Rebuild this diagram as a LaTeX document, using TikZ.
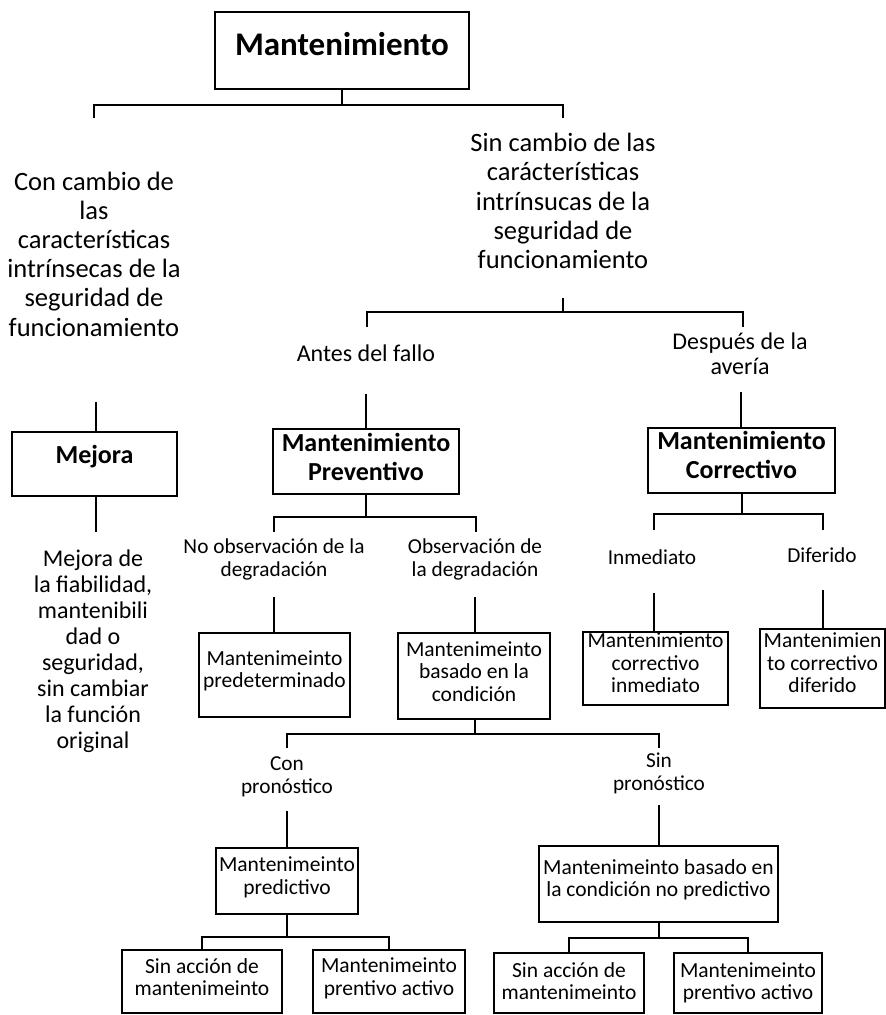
\documentclass[tikz,border=0pt]{standalone}
\usepackage{fontspec}
\setmainfont{Carlito}
\begin{document}
\begin{tikzpicture}[x=1pt,y=-1pt,
  line width=1.8pt,
  box/.style={draw, line width=2pt, inner sep=0pt},
  ttl/.style={inner sep=0pt, font=\bfseries\fontsize{33}{36}\selectfont},
  boldtxt/.style={align=center, inner sep=0pt, font=\bfseries\fontsize{26}{29}\selectfont},
  bigtxt/.style={align=center, inner sep=0pt, font=\fontsize{26.5}{29.2}\selectfont},
  desctxt/.style={align=center, inner sep=0pt, font=\fontsize{24}{26}\selectfont},
  midtxt/.style={align=center, inner sep=0pt, font=\fontsize{24}{24.5}\selectfont},
  smalltxt/.style={align=center, inner sep=0pt, font=\fontsize{21.3}{23}\selectfont},
  boxtxt/.style={align=center, inner sep=0pt, font=\fontsize{21.5}{22.5}\selectfont},
]
\useasboundingbox (0,0) rectangle (886,1015);

% ---- root ----
\node[box, minimum width=254pt, minimum height=77pt] (root) at (342,50.5) {};
\node[ttl] (rootT) at (342,44) {Mantenimiento};

\coordinate (j1) at (342,105);
\coordinate (t1a) at (94,118);
\coordinate (t1b) at (563,118);
\draw (root.south) -- (j1);
\draw (t1a) |- (j1) -| (t1b);

% ---- left branch: improvement ----
\node[bigtxt] (conT) at (94,254) {Con cambio de\\las\\características\\intrínsecas de la\\seguridad de\\funcionamiento};
\coordinate (s2) at (96,402);
\node[box, minimum width=165pt, minimum height=64pt] (mej) at (94.5,464) {};
\node[boldtxt] (mejT) at (94.5,457) {Mejora};
\draw (s2) -- (s2 |- mej.north);
\coordinate (s3) at (96,532);
\draw (mej.south -| s3) -- (s3);
\node[desctxt] (mejD) at (93,651) {Mejora de\\la fiabilidad,\\mantenibili\\dad o\\seguridad,\\sin cambiar\\la función\\original};

% ---- right branch ----
\node[bigtxt] (sinT) at (563,201) {Sin cambio de las\\carácterísticas\\intrínsucas de la\\seguridad de\\funcionamiento};
\coordinate (s4) at (563,298);
\coordinate (j4) at (563,312);
\draw (s4) -- (j4);
\coordinate (t4a) at (367,327);
\coordinate (t4b) at (743,327);
\draw (t4a) |- (j4) -| (t4b);

\node[midtxt] (antT) at (366,353.5) {Antes del fallo};
\node[midtxt] (despT) at (740,353.5) {Después de la\\avería};

\coordinate (s5) at (366,394);
\node[box, minimum width=186pt, minimum height=65pt] (prev) at (366,461.5) {};
\node[boldtxt] (prevT) at (366,456.5) {Mantenimiento\\Preventivo};
\draw (s5) -- (s5 |- prev.north);

\coordinate (s6) at (741,392);
\node[box, minimum width=187pt, minimum height=65pt] (corr) at (741.5,460.5) {};
\node[boldtxt] (corrT) at (741.5,454.5) {Mantenimiento\\Correctivo};
\draw (s6) -- (s6 |- corr.north);

% ---- preventive maintenance ----
\coordinate (j7) at (366,517);
\coordinate (t7a) at (274,532);
\coordinate (t7b) at (476,532);
\draw (prev.south) -- (j7);
\draw (t7a) |- (j7) -| (t7b);
\node[smalltxt] (noobsT) at (274,559.5) {No observación de la\\degradación};
\node[smalltxt] (obsT) at (475,559.5) {Observación de\\la degradación};
\coordinate (s8) at (274,597);
\coordinate (s9) at (475,597);
\node[box, minimum width=151pt, minimum height=84pt] (pdet) at (274.5,675) {};
\node[boxtxt] (pdetT) at (274.5,671) {Mantenimeinto\\predeterminado};
\node[box, minimum width=152pt, minimum height=86pt] (cond) at (474,676) {};
\node[boxtxt] (condT) at (474,671.5) {Mantenimeinto\\basado en la\\condición};
\draw (s8) -- (s8 |- pdet.north);
\draw (s9) -- (s9 |- cond.north);

% ---- condition based ----
\coordinate (j10) at (475,734);
\coordinate (t10a) at (287,748);
\coordinate (t10b) at (659,748);
\draw (cond.south -| j10) -- (j10);
\draw (t10a) |- (j10) -| (t10b);
\node[smalltxt] (conpT) at (287,776.5) {Con\\pronóstico};
\node[smalltxt] (sinpT) at (659,773.5) {Sin\\pronóstico};
\coordinate (s11) at (287,811);
\coordinate (s12) at (659,805);
\node[box, minimum width=142pt, minimum height=66pt] (pred) at (287,881) {};
\node[boxtxt] (predT) at (287,877.5) {Mantenimeinto\\predictivo};
\node[box, minimum width=239pt, minimum height=76pt] (npred) at (658.5,884) {};
\node[boxtxt] (npredT) at (658.5,880) {Mantenimeinto basado en\\la condición no predictivo};
\draw (s11) -- (s11 |- pred.north);
\draw (s12) -- (s12 |- npred.north);

% ---- predictive leaves ----
\coordinate (j13) at (287,937);
\node[box, minimum width=160pt, minimum height=63pt] (b1) at (202,981.5) {};
\node[boxtxt] (b1T) at (202,977) {Sin acción de\\mantenimeinto};
\node[box, minimum width=152pt, minimum height=63pt] (b2) at (389,981.5) {};
\node[boxtxt] (b2T) at (389,978.5) {Mantenimeinto\\prentivo activo};
\draw (pred.south) -- (j13);
\draw (b1.north) |- (j13) -| (b2.north);

% ---- non-predictive leaves ----
\coordinate (j14) at (659,938);
\node[box, minimum width=150pt, minimum height=60pt] (b3) at (569,983) {};
\node[boxtxt] (b3T) at (569,981) {Sin acción de\\mantenimeinto};
\node[box, minimum width=148pt, minimum height=60pt] (b4) at (748,983) {};
\node[boxtxt] (b4T) at (748,983) {Mantenimeinto\\prentivo activo};
\draw (npred.south -| j14) -- (j14);
\draw (b3.north) |- (j14) -| (b4.north);

% ---- corrective maintenance ----
\coordinate (j15) at (742,514);
\coordinate (t15a) at (654,530);
\coordinate (t15b) at (823,530);
\draw (corr.south -| j15) -- (j15);
\draw (t15a) |- (j15) -| (t15b);
\node[smalltxt] (inmT) at (652,557) {Inmediato};
\node[smalltxt] (difT) at (822,555) {Diferido};
\coordinate (s16) at (654,593);
\coordinate (s17) at (823,590);
\node[box, minimum width=145pt, minimum height=73pt] (inm) at (655.5,668.5) {};
\node[boxtxt] (inmB) at (655.5,663) {Mantenimiento\\correctivo\\inmediato};
\node[box, minimum width=125pt, minimum height=79pt] (dif) at (822.5,668.5) {};
\node[boxtxt] (difB) at (822.5,663) {Mantenimien\\to correctivo\\diferido};
\draw (s16) -- (s16 |- inm.north);
\draw (s17) -- (s17 |- dif.north);
\end{tikzpicture}
\end{document}
